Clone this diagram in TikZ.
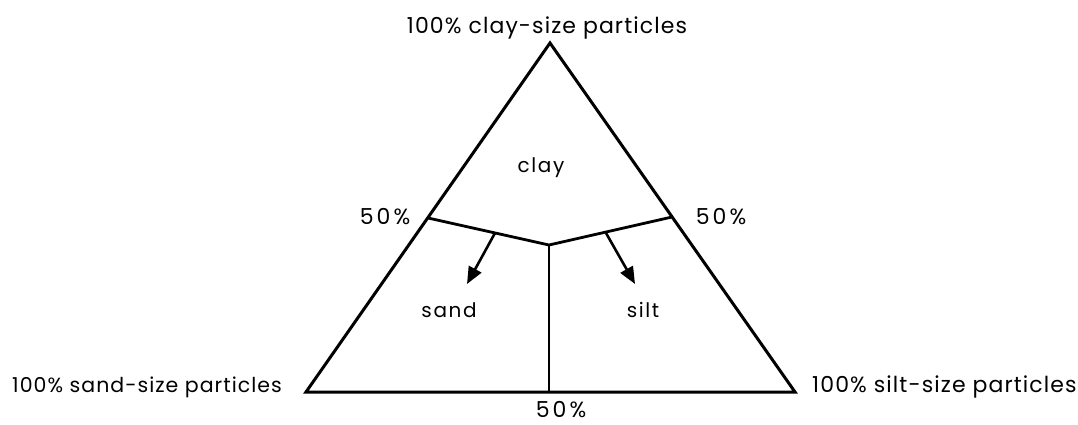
\documentclass[tikz,border=0pt]{standalone}
\usepackage{fontspec}
\setmainfont{Poppins}
\newfontfamily\labfont[LetterSpace=5]{Poppins}
\newfontfamily\pctfont[LetterSpace=14]{Poppins}
\newfontfamily\areafont[LetterSpace=8]{Poppins}
\usetikzlibrary{arrows.meta}
\tikzset{
  edge/.style={line width=3pt, line join=miter},
  divide/.style={line width=2.8pt},
  arr/.style={line width=2.6pt, -{Triangle[length=17pt,width=14pt]}},
  lbl/.style={inner sep=0pt, font=\labfont\fontsize{22}{24}\selectfont},
  pct/.style={inner sep=0pt, font=\pctfont\fontsize{22}{24}\selectfont},
  area/.style={inner sep=0pt, font=\areafont\fontsize{20}{22}\selectfont}
}
\begin{document}
\begin{tikzpicture}[x=1pt,y=-1pt]
\useasboundingbox (0,0) rectangle (1078,425);
\coordinate (top) at (550,43);
\coordinate (bl) at (306,392);
\coordinate (br) at (795,392);
\coordinate (ml) at (428,218);
\coordinate (mr) at (672,217);
\coordinate (mc) at (549,245);
\coordinate (mb) at (549,392);
\coordinate (la) at (495,233);
\coordinate (lt) at (467,284);
\coordinate (ra) at (606,233);
\coordinate (rt) at (635,284);
\draw[edge] (top) -- (bl) -- (br) -- cycle;
\draw[divide] (ml) -- (mc) -- (mr);
\draw[line width=2pt] (mc) -- (mb);
\draw[arr] (la) -- (lt);
\draw[arr] (ra) -- (rt);
\node[lbl, anchor=base] (tl) at (547,34) {100\% clay-size particles};
\node[lbl, anchor=base west, font=\labfont\fontsize{20.5}{23}\selectfont] (sl) at (12,392) {100\% sand-size particles};
\node[lbl, anchor=base west] (sr) at (812,392) {100\% silt-size particles};
\node[pct, anchor=base] (b50) at (561,417) {50\%};
\node[pct, anchor=base] (l50) at (385,224) {50\%};
\node[pct, anchor=base] (r50) at (721,224) {50\%};
\node[area, anchor=base] (clay) at (541,172) {clay};
\node[area, anchor=base] (sand) at (449,317) {sand};
\node[area, anchor=base] (silt) at (643,317) {silt};
\end{tikzpicture}
\end{document}
